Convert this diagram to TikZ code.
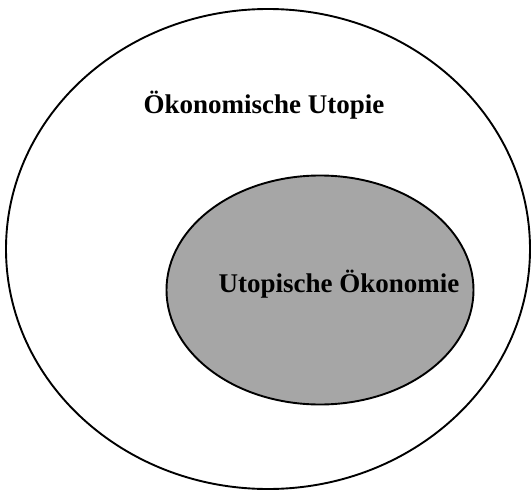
\documentclass[tikz,border=0pt]{standalone}
\usepackage{fontspec}
\setmainfont{Liberation Serif}
\usepackage{tikz}
\usetikzlibrary{shapes.geometric}
\definecolor{inner}{HTML}{A6A6A6}

\begin{document}
\begin{tikzpicture}[
      x=1pt, y=-1pt,
      font=\fontsize{27}{30}\selectfont\bfseries,
      outer/.style={ellipse, draw=black, line width=1.9pt, fill=white,
                    minimum width=524pt, minimum height=480pt, inner sep=0pt},
      core/.style={ellipse, draw=black, line width=1.9pt, fill=inner,
                   minimum width=307pt, minimum height=229pt, inner sep=0pt},
      lbl/.style={inner sep=0pt, anchor=base},
    ]
    \useasboundingbox (0,0) rectangle (531,490);
    % outer set
    \node[outer] (utopie) at (268,249) {};
    \node[lbl] (utopieText) at (264,113) {Ökonomische Utopie};

    % inner set
    \node[core] (oekonomie) at (320,290) {};
    \node[lbl] (oekonomieText) at (339,292) {Utopische Ökonomie};
\end{tikzpicture}
\end{document}
